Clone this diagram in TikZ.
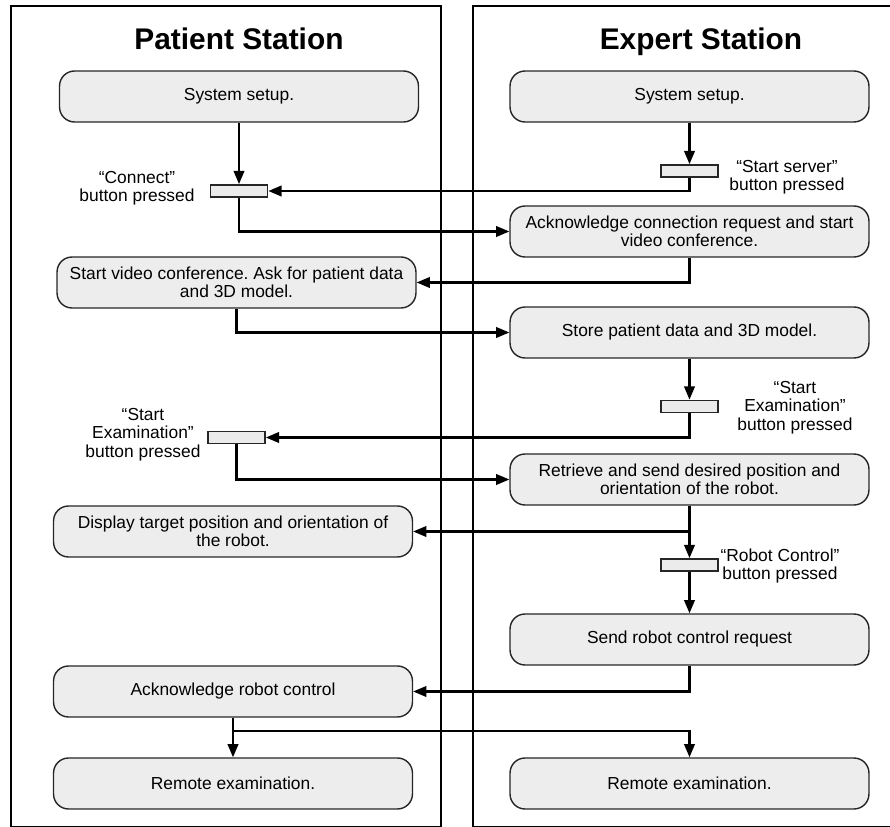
\documentclass[tikz,border=0pt]{standalone}
\usepackage{fontspec}
\setmainfont{Liberation Sans}
\usetikzlibrary{positioning, arrows.meta}

\begin{document}
\frenchspacing
\begin{tikzpicture}[
    x=0.02cm, y=-0.02cm,
    % GLOBAL CFG
    font=\fontsize{9.9}{10.4}\selectfont,
    >={Triangle[length=7.5pt, width=6pt]},
    % Styles
    process/.style={% For activity boxes
        rectangle,
        rounded corners=3mm,
        draw=black!85,
        line width=.8pt,
        fill=black!7,
        minimum width=7.18cm,
        minimum height=1.02cm,
        inner sep=1pt,
    },
    button/.style={% For button events
        rectangle,
        draw=black!85,
        line width=1pt,
        fill=black!8,
        minimum width=1.14cm,
        minimum height=.24cm,
        inner sep=0pt,
    },
    station/.style={% For the two lanes
        draw=black,
        line width=1.2pt,
    },
    title/.style={
        font=\fontsize{17}{20}\selectfont\bfseries,
        anchor=base,
    },
    mylabel/.style={
        inner sep=0pt,
    },
    Arrow/.style={% Connectors
        line width=1.15pt,
    },
    every text node part/.style={
        align=center
    },
    ]
    \useasboundingbox (0,0) rectangle (890,827);
    \clip (0,0) rectangle (890,827);

    % Draw stations
    \draw [station] (11,6) rectangle (441,827);
    \draw [station] (473,6) rectangle (900,827);
    \node [title] (ptitle) at (239,50) {Patient Station};
    \node [title] (etitle) at (701,50) {Expert Station};

    % Coordinates
    \coordinate (join1) at (233,731);

    % Patient side named L#, Lbtn#
    \node [process] (L1) at (239,96.5) {System setup.};
    \node [button] (Lbtn1) at (239,191) {};
    \node [mylabel] (Llbl1) at (137,188) {“Connect”\\button pressed};
    \node [process] (L2) at (236.5,282.5) {Start video conference. Ask for patient data\\and 3D model.};
    \node [button] (Lbtn2) at (236.5,437.5) {};
    \node [mylabel] (Llbl2) at (143,434.5) {“Start\\Examination”\\button pressed};
    \node [process] (L3) at (233,531.5) {Display target position and orientation of\\the robot.};
    \node [process] (L4) at (233,691.5) {Acknowledge robot control};
    \node [process] (L5) at (233,783.5) {Remote examination.};

    % Expert side named R#, Rbtn#
    \node [process] (R1) at (689.5,96.5) {System setup.};
    \node [button] (Rbtn1) at (689.5,171) {};
    \node [mylabel] (Rlbl1) at (787,177) {“Start server”\\button pressed};
    \node [process] (R2) at (689.5,231.5) {Acknowledge connection request and start\\video conference.};
    \node [process] (R3) at (689.5,332.5) {Store patient data and 3D model.};
    \node [button] (Rbtn2) at (689.5,406.5) {};
    \node [mylabel] (Rlbl2) at (795,407.5) {“Start\\Examination”\\button pressed};
    \node [process] (R4) at (689.5,479.5) {Retrieve and send desired position and\\orientation of the robot.};
    \node [button] (Rbtn3) at (689.5,565) {};
    \node [mylabel] (Rlbl3) at (780,566) {“Robot Control”\\button pressed};
    \node [process] (R5) at (689.5,639.5) {Send robot control request};
    \node [process] (R6) at (689.5,783.5) {Remote examination.};

    % Connection
    \draw [->,Arrow] (L1) -- (Lbtn1);
    \draw [->,Arrow] (R1) -- (Rbtn1);
    \draw [->,Arrow] (Rbtn1.south) |- (Lbtn1.east);
    \draw [->,Arrow] (Lbtn1.south) |- (R2.west);
    \draw [->,Arrow] (R2.south) |- (L2.east);
    \draw [->,Arrow] (L2.south) |- (R3.west);

    % Examination
    \draw [->,Arrow] (R3) -- (Rbtn2);
    \draw [->,Arrow] (Rbtn2.south) |- (Lbtn2.east);
    \draw [->,Arrow] (Lbtn2.south) |- (R4.west);
    \draw [->,Arrow] (R4) -- (Rbtn3);
    \draw [->,Arrow] (R4.south) |- (L3.east);

    % Robot control
    \draw [->,Arrow] (Rbtn3) -- (R5);
    \draw [->,Arrow] (R5.south) |- (L4.east);
    \draw [Arrow] (L4) -- (join1);
    \draw [->,Arrow] (join1) -- (L5);
    \draw [->,Arrow] (join1) -| (R6);

\end{tikzpicture}
\end{document}
